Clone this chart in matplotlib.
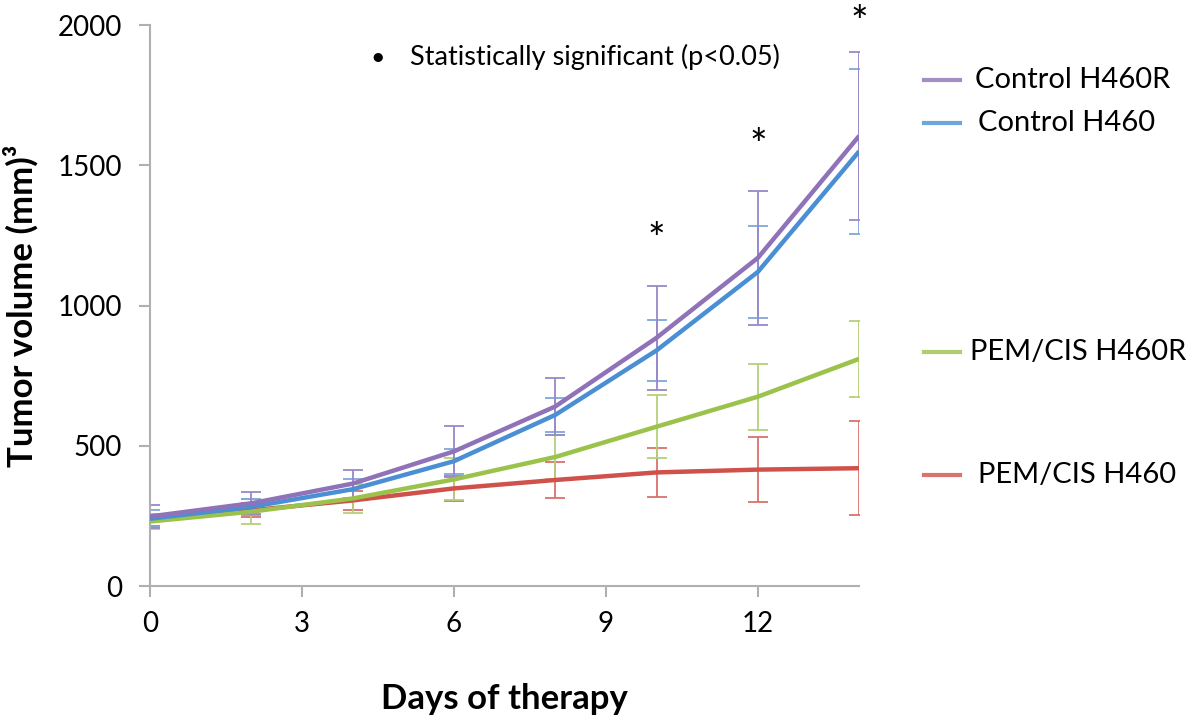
import matplotlib
matplotlib.use("Agg")
import matplotlib.pyplot as plt
from matplotlib.lines import Line2D

days = [0, 2, 4, 6, 8, 10, 12, 14]
series_names = ["Control H460R", "Control H460", "PEM/CIS H460R", "PEM/CIS H460"]
control_h460r = [248, 295, 365, 480, 640, 885, 1170, 1605]
control_h460r_err = [40, 40, 50, 90, 100, 185, 240, 300]
control_h460 = [240, 282, 345, 445, 610, 840, 1120, 1550]
control_h460_err = [30, 30, 35, 45, 60, 110, 165, 295]
pem_h460r = [230, 265, 312, 380, 460, 568, 675, 810]
pem_h460r_err = [25, 45, 50, 75, 80, 112, 118, 135]
pem_h460 = [235, 270, 305, 348, 378, 405, 415, 420]
pem_h460_err = [20, 25, 35, 45, 65, 88, 115, 168]
sig_days = [10, 12, 14]
sig_heights = [1230, 1565, 2005]
xticks = [0, 3, 6, 9, 12]
yticks = [0, 500, 1000, 1500, 2000]

colors = ["#8f72b8", "#4a8fd4", "#9bc24a", "#d0504a"]
err_colors = ["#9a88c8", "#7fa8dc", "#b5d07a", "#d9716c"]
values = [control_h460r, control_h460, pem_h460r, pem_h460]
errs = [control_h460r_err, control_h460_err, pem_h460r_err, pem_h460_err]

plt.rcParams['font.family'] = ['Lato', 'DejaVu Sans']

fig = plt.figure(figsize=(11.9, 7.17), dpi=100)
ax = fig.add_axes([0.126, 0.1827, 0.596, 0.7823])

order = [3, 2, 1, 0]
for i in order:
    ax.errorbar(days, values[i], yerr=errs[i], fmt='none', ecolor=err_colors[i],
                elinewidth=1.3, capsize=7, capthick=1.3, zorder=2)
for i in order:
    ax.plot(days, values[i], color=colors[i], lw=3.2, zorder=3, solid_capstyle='butt')

for d, h in zip(sig_days, sig_heights):
    ax.text(d, h, "*", ha='center', va='center', fontsize=30, color='black', clip_on=False)

ax.set_xlim(0, 14)
ax.set_ylim(0, 2000)
ax.set_xticks(xticks)
ax.set_yticks(yticks)
for s in ['top', 'right']:
    ax.spines[s].set_visible(False)
for s in ['left', 'bottom']:
    ax.spines[s].set_color('#b0b0b0')
    ax.spines[s].set_linewidth(1.5)
ax.tick_params(axis='both', colors='#b0b0b0', length=8, width=1.5, direction='out',
               labelsize=20, labelcolor='black', pad=10)
ax.tick_params(axis='y', pad=12)

ax.set_ylabel("Tumor volume (mm)³", fontsize=25, fontweight='bold', labelpad=14)
ax.set_xlabel("Days of therapy", fontsize=25, fontweight='bold', labelpad=33)

fig.text(378 / 1190, 1 - 57 / 717, "•", fontsize=18, ha='center', va='center')
fig.text(410 / 1190, 1 - 57 / 717, "Statistically significant (p<0.05)", fontsize=19.5,
         ha='left', va='center')

leg_y = [80, 123, 352, 475]
leg_text_x = [975, 978, 970, 978]
for i in range(4):
    yf = 1 - leg_y[i] / 717
    fig.add_artist(Line2D([924 / 1190, 960 / 1190], [yf, yf], color=colors[i], lw=3,
                          alpha=0.8, transform=fig.transFigure))
    fig.text(leg_text_x[i] / 1190, yf, series_names[i], fontsize=21, ha='left', va='center')

fig.savefig("out.png", dpi=100)
